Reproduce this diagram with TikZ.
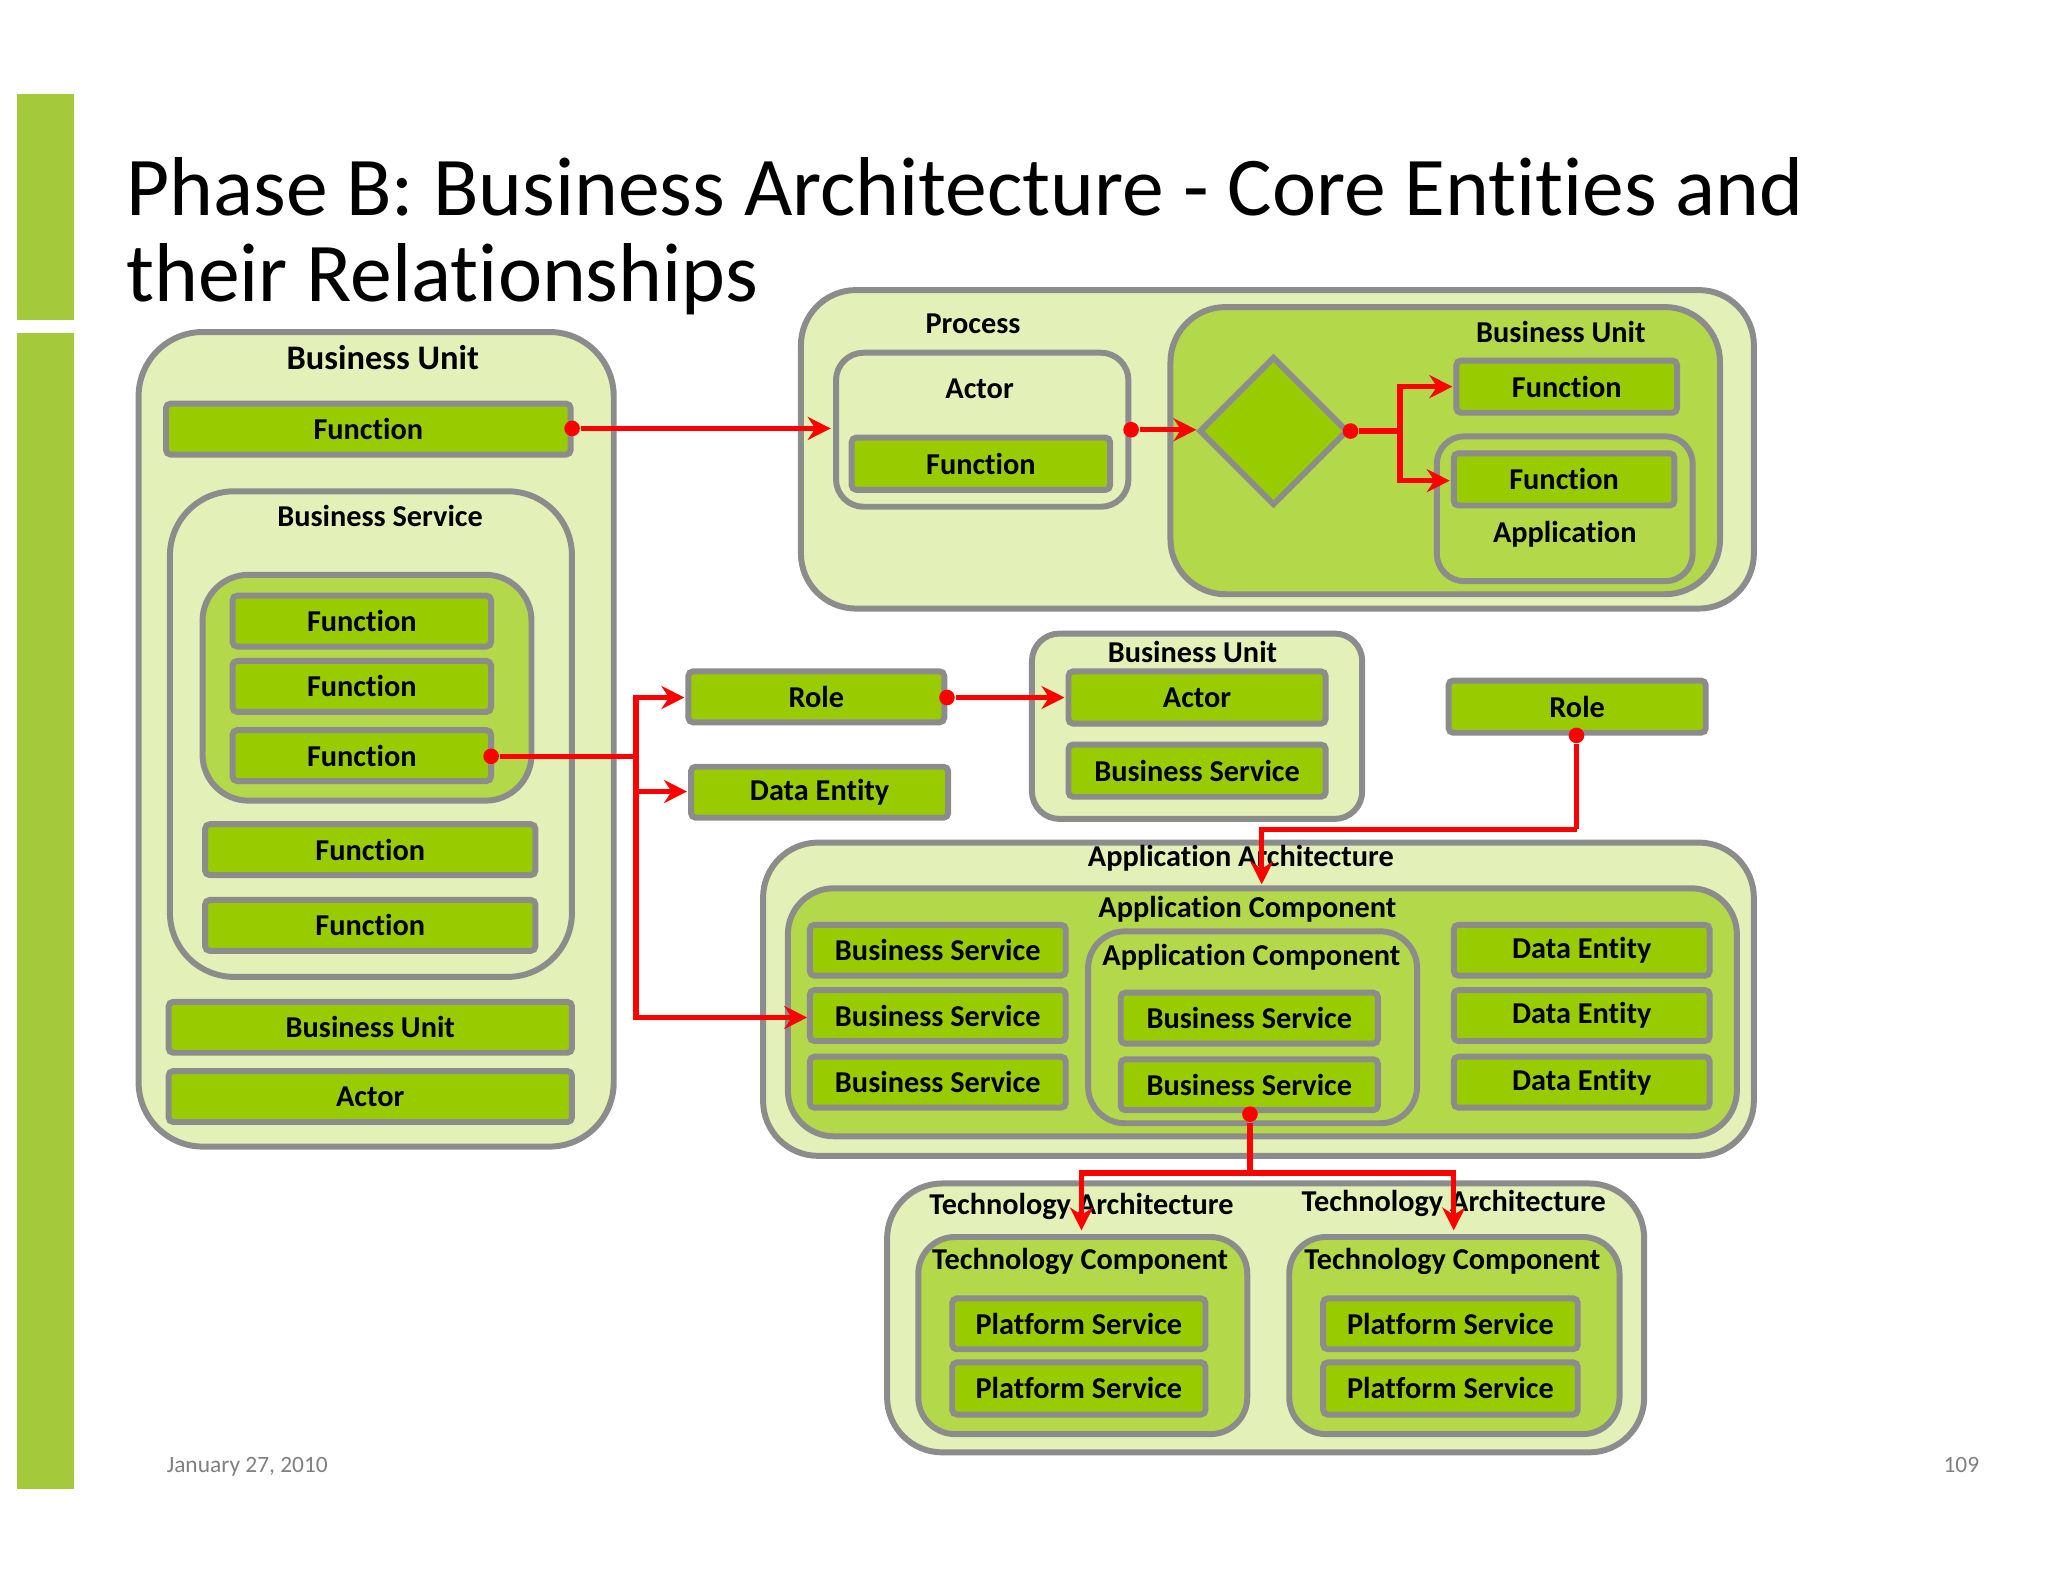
\documentclass[tikz,border=0pt]{standalone}
\usepackage{fontspec}
\setmainfont{Carlito}[Ligatures=NoCommon]
\usetikzlibrary{arrows.meta,shapes.geometric}
\definecolor{barg}{HTML}{A4C93A}
\definecolor{outerg}{HTML}{E3F1B8}
\definecolor{midg}{HTML}{B3D84A}
\definecolor{leafg}{HTML}{99CC00}
\definecolor{edgeg}{HTML}{8C8C8C}
% box: name, x1, y1, x2, y2, style, text  (reference pixels, 1px = 0.01cm)
\newcommand\bx[7]{\node[#6, minimum width={(#4-#2)*0.01cm}, minimum height={(#5-#3)*0.01cm}]
  (#1) at ({(#2+#4)/200},{-(#3+#5)/200}) {#7};}
\newcommand\lbl[4]{\node[lbl] (#1) at ({#2/100},{-#3/100}) {#4};}
\newcommand\pt[3]{\coordinate (#1) at ({#2/100},{-#3/100});}
\newcommand\dt[3]{\node[dot] (#1) at ({#2/100},{-#3/100}) {};}
\begin{document}
\begin{tikzpicture}[
  base/.style={draw=edgeg, line width=1.3pt, inner sep=0pt, outer sep=0pt, font=\fontsize{6.6}{7}\selectfont\bfseries},
  outer/.style={base, fill=outerg, rounded corners=#1},
  mid/.style={base, fill=midg, rounded corners=#1},
  leaf/.style={base, fill=leafg, rounded corners=1pt},
  lbl/.style={inner sep=0pt, font=\fontsize{6.6}{7}\selectfont\bfseries},
  dot/.style={circle, fill=red, minimum size=3.4pt, inner sep=0pt},
  rel/.style={red, line width=1.2pt},
  arr/.style={rel, -{Stealth[length=5pt,width=5pt]}}]
\useasboundingbox (0,0) rectangle (15.68,-12.11);
\fill[barg] (0.13,-0.72) rectangle (0.57,-2.45);
\fill[barg] (0.13,-2.55) rectangle (0.57,-11.40);
\node[anchor=base west, inner sep=0pt, font=\fontsize{18.2}{22}\selectfont] (title) at (0.96,-1.65) {Phase B: Business Architecture - Core Entities and};
\node[anchor=base west, inner sep=0pt, font=\fontsize{18.2}{22}\selectfont] (title2) at (0.96,-2.31) {their Relationships};
\node[anchor=base west, inner sep=0pt, gray, font=\fontsize{5.1}{6}\selectfont] (date) at (1.27,-11.27) {January 27, 2010};
\node[anchor=base east, inner sep=0pt, gray, font=\fontsize{5.1}{6}\selectfont] (pg) at (15.16,-11.27) {109};

% left business unit
\bx{lbu}{106}{254}{470}{878}{outer=14pt}{}
\lbl{lbuT}{293}{274}{\fontsize{7.5}{8}\selectfont Business Unit}
\bx{lf1}{127}{309}{437}{348}{leaf}{Function}
\bx{lbs}{130}{376}{438}{748}{outer=14pt}{}
\lbl{lbsT}{291}{395}{Business Service}
\bx{lgrp}{155}{440}{407}{613}{mid=10pt}{}
\bx{lf2}{178}{456}{376}{495}{leaf}{Function}
\bx{lf3}{178}{506}{376}{545}{leaf}{Function}
\bx{lf4}{178}{559}{376}{598}{leaf}{Function}
\bx{lf5}{157}{631}{410}{670}{leaf}{Function}
\bx{lf6}{157}{689}{410}{728}{leaf}{Function}
\bx{lbu2}{129}{767}{438}{806}{leaf}{Business Unit}
\bx{lact}{129}{820}{438}{859}{leaf}{Actor}

% process
\bx{proc}{613}{222}{1343}{466}{outer=12pt}{}
\lbl{procT}{745}{248}{Process}
\bx{pact}{640}{270}{864}{388}{outer=6pt}{}
\lbl{pactT}{750}{298}{Actor}
\bx{pf}{652}{335}{850}{375}{leaf}{Function}
\bx{pbu}{896}{235}{1317}{455}{mid=12pt}{}
\lbl{pbuT}{1195}{254}{Business Unit}
\node[diamond, draw=edgeg, line width=1.3pt, fill=leafg, minimum width=1.14cm, minimum height=1.14cm, inner sep=0pt] (dec) at (9.75,-3.30) {};
\bx{pf2}{1115}{276}{1284}{316}{leaf}{Function}
\bx{papp}{1100}{334}{1296}{445}{mid=6pt}{}
\bx{pf3}{1113}{347}{1282}{387}{leaf}{Function}
\lbl{pappT}{1198}{409}{Application}

% middle
\bx{role}{527}{514}{723}{553}{leaf}{Role}
\bx{de}{529}{587}{726}{626}{leaf}{Data Entity}
\bx{mbu}{790}{485}{1043}{627}{outer=6pt}{}
\lbl{mbuT}{913}{499}{Business Unit}
\bx{mact}{818}{514}{1015}{554}{leaf}{Actor}
\bx{mbs}{818}{570}{1015}{610}{leaf}{Business Service}
\bx{role2}{1109}{521}{1306}{561}{leaf}{Role}

% application architecture
\bx{aa}{584}{645}{1343}{885}{outer=12pt}{}
\lbl{aaT}{950}{657}{Application Architecture}
\bx{ac}{603}{680}{1330}{870}{mid=10pt}{}
\lbl{acT}{955}{696}{Application Component}
\bx{abs1}{620}{708}{816}{747}{leaf}{Business Service}
\bx{abs2}{620}{758}{816}{797}{leaf}{Business Service}
\bx{abs3}{620}{809}{816}{848}{leaf}{Business Service}
\bx{ac2}{833}{713}{1085}{860}{mid=8pt}{}
\lbl{ac2T}{958}{733}{Application Component}
\bx{abs4}{858}{760}{1055}{799}{leaf}{Business Service}
\bx{abs5}{858}{811}{1055}{850}{leaf}{Business Service}
\bx{ade1}{1113}{708}{1309}{747}{leaf}{Data Entity}
\bx{ade2}{1113}{758}{1309}{797}{leaf}{Data Entity}
\bx{ade3}{1113}{809}{1309}{848}{leaf}{Data Entity}

% technology architecture
\bx{ta}{679}{906}{1259}{1112}{outer=12pt}{}
\lbl{taT1}{828}{924}{Technology Architecture}
\lbl{taT2}{1113}{921}{Technology Architecture}
\bx{tc1}{703}{947}{955}{1098}{mid=8pt}{}
\lbl{tc1T}{827}{966}{Technology Component}
\bx{tc2}{987}{947}{1240}{1098}{mid=8pt}{}
\lbl{tc2T}{1112}{966}{Technology Component}
\bx{ps1}{729}{994}{923}{1033}{leaf}{Platform Service}
\bx{ps2}{729}{1043}{923}{1083}{leaf}{Platform Service}
\bx{ps3}{1013}{994}{1208}{1033}{leaf}{Platform Service}
\bx{ps4}{1013}{1043}{1208}{1083}{leaf}{Platform Service}

% relationships
\dt{d1}{438}{328}
\dt{d2}{866}{329}
\dt{d3}{1034}{330}
\dt{d4}{376}{579}
\dt{d5}{725}{534}
\dt{d6}{1207}{563}
\dt{d7}{957}{853}
\pt{e1}{636}{328}
\pt{e2}{916}{329}
\pt{j3}{1072}{330}
\pt{e3a}{1112}{296}
\pt{e3b}{1110}{368}
\pt{j4}{487}{579}
\pt{e4a}{524}{534}
\pt{e4b}{526}{606}
\pt{e4c}{618}{779}
\pt{e5}{815}{534}
\pt{j6}{1207}{635}
\pt{e6}{966}{677}
\pt{j7}{957}{898}
\pt{e7a}{828}{942}
\pt{e7b}{1113}{942}

\draw[arr] (d1) -- (e1);
\draw[arr] (d2) -- (e2);
\draw[rel] (d3) -- (j3);
\draw[arr] (j3) |- (e3a);
\draw[arr] (j3) |- (e3b);
\draw[rel] (d4) -- (j4);
\draw[arr] (j4) |- (e4a);
\draw[arr] (j4) |- (e4b);
\draw[arr] (j4) |- (e4c);
\draw[arr] (d5) -- (e5);
\draw[rel] (d6) -- (j6);
\draw[arr] (j6) -| (e6);
\draw[rel] (d7) -- (j7);
\draw[arr] (j7) -| (e7a);
\draw[arr] (j7) -| (e7b);
\end{tikzpicture}
\end{document}
